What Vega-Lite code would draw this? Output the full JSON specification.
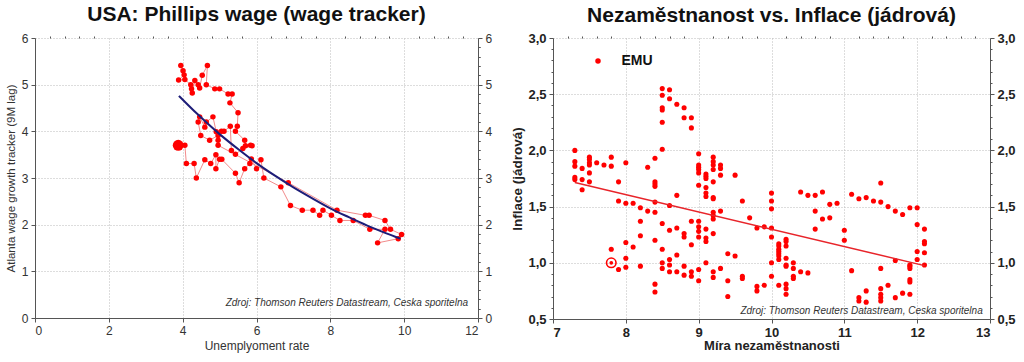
{
  "$schema": "https://vega.github.io/schema/vega-lite/v6.json",
  "padding": {"left": 5, "top": 4, "right": 4, "bottom": 2},
  "background": "white",
  "config": {"font": "Liberation Sans", "view": {"stroke": null}},
  "datasets": {
    "usa": [
      {"t":1,"u":3.95,"w":5.41},{"t":2,"u":4.01,"w":5.30},{"t":3,"u":4.04,"w":5.21},{"t":4,"u":3.89,"w":5.10},
      {"t":5,"u":4.06,"w":5.11},{"t":6,"u":4.22,"w":5.00},{"t":7,"u":4.24,"w":4.91},{"t":8,"u":4.26,"w":4.82},
      {"t":9,"u":4.33,"w":5.09},{"t":10,"u":4.42,"w":5.00},{"t":11,"u":4.46,"w":4.93},{"t":12,"u":4.53,"w":5.20},
      {"t":13,"u":4.67,"w":5.41},{"t":14,"u":4.64,"w":5.00},{"t":15,"u":4.87,"w":4.91},{"t":16,"u":5.00,"w":4.91},
      {"t":17,"u":5.23,"w":4.80},{"t":18,"u":5.34,"w":4.80},{"t":19,"u":5.28,"w":4.61},{"t":20,"u":5.50,"w":4.40},
      {"t":21,"u":5.48,"w":4.11},{"t":22,"u":5.43,"w":4.00},{"t":23,"u":5.68,"w":3.81},{"t":24,"u":5.70,"w":3.69},
      {"t":25,"u":5.84,"w":3.70},{"t":26,"u":5.88,"w":3.69},{"t":27,"u":5.63,"w":3.63},{"t":28,"u":5.43,"w":3.51},
      {"t":29,"u":5.32,"w":3.59},{"t":30,"u":5.29,"w":4.11},{"t":31,"u":5.12,"w":4.00},{"t":32,"u":5.05,"w":4.00},
      {"t":33,"u":4.91,"w":3.99},{"t":34,"u":4.82,"w":4.31},{"t":35,"u":4.64,"w":4.20},{"t":36,"u":4.60,"w":4.09},
      {"t":37,"u":4.46,"w":4.31},{"t":38,"u":4.42,"w":4.20},{"t":39,"u":4.49,"w":3.91},{"t":40,"u":4.73,"w":3.81},
      {"t":41,"u":4.96,"w":3.91},{"t":42,"u":4.96,"w":3.81},{"t":43,"u":4.96,"w":3.70},{"t":44,"u":6.86,"w":2.90},
      {"t":45,"u":8.18,"w":2.31},{"t":46,"u":8.95,"w":2.20},{"t":47,"u":9.05,"w":2.20},{"t":48,"u":9.48,"w":2.09},
      {"t":49,"u":9.63,"w":1.90},{"t":50,"u":9.93,"w":1.79},{"t":51,"u":9.84,"w":1.70},{"t":52,"u":9.28,"w":1.61},
      {"t":53,"u":9.48,"w":1.90},{"t":54,"u":9.07,"w":1.90},{"t":55,"u":8.62,"w":2.09},{"t":56,"u":8.26,"w":2.09},
      {"t":57,"u":8.03,"w":2.20},{"t":58,"u":7.80,"w":2.31},{"t":59,"u":7.71,"w":2.20},{"t":60,"u":7.53,"w":2.31},
      {"t":61,"u":7.24,"w":2.31},{"t":62,"u":6.92,"w":2.41},{"t":63,"u":6.66,"w":2.81},{"t":64,"u":6.20,"w":3.00},
      {"t":65,"u":6.12,"w":3.39},{"t":66,"u":6.00,"w":3.20},{"t":67,"u":5.86,"w":3.41},{"t":68,"u":5.82,"w":3.31},
      {"t":69,"u":5.68,"w":3.20},{"t":70,"u":5.53,"w":2.90},{"t":71,"u":5.43,"w":3.10},{"t":72,"u":5.06,"w":3.40},
      {"t":73,"u":5.00,"w":3.40},{"t":74,"u":4.90,"w":3.20},{"t":75,"u":4.90,"w":3.50},{"t":76,"u":4.76,"w":3.31},
      {"t":77,"u":4.60,"w":3.39},{"t":78,"u":4.37,"w":3.00},{"t":79,"u":4.31,"w":3.31},{"t":80,"u":4.10,"w":3.31},
      {"t":81,"u":4.06,"w":3.70},{"t":82,"u":3.88,"w":3.70}
    ],
    "usaLast": [{"u":3.88,"w":3.70}],
    "usaFit": [
      {"u":3.9,"w":4.76},{"u":4.4,"w":4.37},{"u":5.0,"w":3.94},{"u":5.5,"w":3.62},{"u":6.0,"w":3.32},
      {"u":6.5,"w":3.05},{"u":7.0,"w":2.80},{"u":7.5,"w":2.57},{"u":8.0,"w":2.35},{"u":8.5,"w":2.16},
      {"u":9.0,"w":1.98},{"u":9.5,"w":1.82},{"u":9.9,"w":1.70}
    ],
    "emu": [
      {"u":7.3,"w":2.0},{"u":7.3,"w":1.9},{"u":7.3,"w":1.86},{"u":7.3,"w":1.76},{"u":7.3,"w":1.74},
      {"u":7.4,"w":1.84},{"u":7.4,"w":1.74},{"u":7.4,"w":1.65},
      {"u":7.5,"w":1.94},{"u":7.5,"w":1.92},{"u":7.5,"w":1.89},{"u":7.5,"w":1.87},{"u":7.5,"w":1.80},{"u":7.5,"w":1.72},
      {"u":7.6,"w":1.89},{"u":7.7,"w":1.87},
      {"u":7.8,"w":1.94},{"u":7.8,"w":1.86},{"u":7.8,"w":1.12},
      {"u":7.9,"w":1.72},{"u":7.9,"w":1.55},{"u":7.9,"w":0.94},
      {"u":8.0,"w":1.89},{"u":8.0,"w":1.53},{"u":8.0,"w":1.18},{"u":8.0,"w":1.04},{"u":8.0,"w":0.96},
      {"u":8.1,"w":1.53},{"u":8.1,"w":1.14},
      {"u":8.2,"w":1.49},{"u":8.2,"w":1.37},{"u":8.2,"w":1.24},{"u":8.2,"w":0.97},
      {"u":8.3,"w":1.85},{"u":8.3,"w":1.46},
      {"u":8.4,"w":1.93},{"u":8.4,"w":1.72},{"u":8.4,"w":1.70},{"u":8.4,"w":1.68},{"u":8.4,"w":1.54},{"u":8.4,"w":1.45},{"u":8.4,"w":1.20},{"u":8.4,"w":0.81},{"u":8.4,"w":0.74},
      {"u":8.5,"w":2.55},{"u":8.5,"w":2.49},{"u":8.5,"w":2.38},{"u":8.5,"w":2.36},{"u":8.5,"w":2.25},{"u":8.5,"w":2.01},{"u":8.5,"w":1.35},{"u":8.5,"w":1.12},{"u":8.5,"w":1.0},{"u":8.5,"w":0.95},
      {"u":8.6,"w":2.54},{"u":8.6,"w":2.46},{"u":8.6,"w":1.51},{"u":8.6,"w":1.29},{"u":8.6,"w":1.03},{"u":8.6,"w":0.98},{"u":8.6,"w":0.92},
      {"u":8.7,"w":2.41},{"u":8.7,"w":1.60},{"u":8.7,"w":1.31},{"u":8.7,"w":1.07},{"u":8.7,"w":0.92},
      {"u":8.8,"w":2.38},{"u":8.8,"w":2.29},{"u":8.8,"w":1.26},{"u":8.8,"w":1.23},{"u":8.8,"w":0.97},{"u":8.8,"w":0.89},
      {"u":8.9,"w":2.29},{"u":8.9,"w":2.20},{"u":8.9,"w":1.37},{"u":8.9,"w":1.16},{"u":8.9,"w":0.92},{"u":8.9,"w":0.88},
      {"u":9.0,"w":1.97},{"u":9.0,"w":1.87},{"u":9.0,"w":1.85},{"u":9.0,"w":1.83},{"u":9.0,"w":1.80},{"u":9.0,"w":1.69},{"u":9.0,"w":1.37},{"u":9.0,"w":1.32},{"u":9.0,"w":1.28},{"u":9.0,"w":1.23},{"u":9.0,"w":0.94},{"u":9.0,"w":0.84},
      {"u":9.1,"w":1.79},{"u":9.1,"w":1.77},{"u":9.1,"w":1.75},{"u":9.1,"w":1.67},{"u":9.1,"w":1.62},{"u":9.1,"w":1.59},{"u":9.1,"w":1.30},{"u":9.1,"w":1.22},{"u":9.1,"w":1.19},{"u":9.1,"w":1.0},
      {"u":9.2,"w":1.94},{"u":9.2,"w":1.90},{"u":9.2,"w":1.87},{"u":9.2,"w":1.83},{"u":9.2,"w":1.72},{"u":9.2,"w":1.58},{"u":9.2,"w":1.57},{"u":9.2,"w":1.45},{"u":9.2,"w":1.42},{"u":9.2,"w":1.39},{"u":9.2,"w":1.26},{"u":9.2,"w":0.92},{"u":9.2,"w":0.87},
      {"u":9.3,"w":1.87},{"u":9.3,"w":1.84},{"u":9.3,"w":1.78},{"u":9.3,"w":1.46},{"u":9.3,"w":0.95},
      {"u":9.4,"w":1.08},{"u":9.4,"w":0.84},{"u":9.4,"w":0.70},
      {"u":9.5,"w":1.78},{"u":9.5,"w":1.06},
      {"u":9.6,"w":1.55},{"u":9.6,"w":0.88},{"u":9.6,"w":0.86},
      {"u":9.7,"w":1.40},
      {"u":9.8,"w":1.31},{"u":9.8,"w":0.79},{"u":9.8,"w":0.75},
      {"u":9.9,"w":1.32},{"u":9.9,"w":0.80},
      {"u":10.0,"w":1.62},{"u":10.0,"w":1.55},{"u":10.0,"w":1.48},{"u":10.0,"w":1.31},{"u":10.0,"w":1.23},{"u":10.0,"w":1.0},{"u":10.0,"w":0.88},
      {"u":10.1,"w":1.17},{"u":10.1,"w":1.15},{"u":10.1,"w":1.12},{"u":10.1,"w":1.10},{"u":10.1,"w":1.08},{"u":10.1,"w":1.06},{"u":10.1,"w":1.03},{"u":10.1,"w":0.80},
      {"u":10.2,"w":1.21},{"u":10.2,"w":1.19},{"u":10.2,"w":1.15},{"u":10.2,"w":1.04},{"u":10.2,"w":0.98},{"u":10.2,"w":0.97},{"u":10.2,"w":0.81},{"u":10.2,"w":0.77},{"u":10.2,"w":0.72},
      {"u":10.3,"w":1.0},{"u":10.3,"w":0.95},{"u":10.3,"w":0.88},{"u":10.3,"w":0.86},
      {"u":10.4,"w":1.63},{"u":10.4,"w":0.92},
      {"u":10.5,"w":1.60},{"u":10.5,"w":0.91},
      {"u":10.6,"w":1.60},{"u":10.6,"w":1.46},{"u":10.6,"w":1.30},
      {"u":10.7,"w":1.63},{"u":10.7,"w":1.39},
      {"u":10.8,"w":1.52},{"u":10.8,"w":1.40},
      {"u":10.9,"w":1.53},
      {"u":11.0,"w":1.29},{"u":11.0,"w":1.20},
      {"u":11.1,"w":1.61},{"u":11.1,"w":0.93},
      {"u":11.2,"w":1.57},{"u":11.2,"w":0.69},{"u":11.2,"w":0.66},
      {"u":11.3,"w":1.58},{"u":11.3,"w":0.75},{"u":11.3,"w":0.65},
      {"u":11.4,"w":1.55},
      {"u":11.5,"w":1.71},{"u":11.5,"w":1.54},{"u":11.5,"w":0.95},{"u":11.5,"w":0.77},{"u":11.5,"w":0.72},{"u":11.5,"w":0.69},{"u":11.5,"w":0.66},
      {"u":11.6,"w":1.50},{"u":11.6,"w":0.80},
      {"u":11.7,"w":1.46},{"u":11.7,"w":1.02},{"u":11.7,"w":0.69},
      {"u":11.8,"w":1.43},{"u":11.8,"w":0.73},
      {"u":11.9,"w":1.49},{"u":11.9,"w":0.98},{"u":11.9,"w":0.97},{"u":11.9,"w":0.95},{"u":11.9,"w":0.85},{"u":11.9,"w":0.83},{"u":11.9,"w":0.72},
      {"u":12.0,"w":1.49},{"u":12.0,"w":1.34},{"u":12.0,"w":1.10},{"u":12.0,"w":1.03},
      {"u":12.1,"w":1.30},{"u":12.1,"w":1.19},{"u":12.1,"w":1.17},{"u":12.1,"w":1.09},{"u":12.1,"w":0.98}
    ],
    "emuFit": [{"u":7.3,"w":1.715},{"u":12.1,"w":0.975}],
    "emuLast": [{"u":7.8,"w":1.0}]
  },
  "hconcat": [
    {
      "width": 443,
      "height": 280,
      "title": {"text": "USA: Phillips wage (wage tracker)", "fontSize": 21, "fontWeight": "bold", "color": "#111", "anchor": "middle", "offset": 7},
      "resolve": {"axis": {"y": "independent", "x": "independent"}},
      "layer": [
        {
          "data": {"name": "usa"},
          "mark": {"type": "line", "color": "#f28b8b", "strokeWidth": 1},
          "encoding": {
            "x": {"field": "u", "type": "quantitative", "scale": {"domain": [0, 12], "nice": false},
              "axis": {"title": "Unemplyoment rate", "values": [0,2,4,6,8,10,12], "format": "d", "grid": true, "gridDash": [1,2], "gridColor": "#bbbbbb",
                "domainColor": "#555", "tickColor": "#555", "tickSize": 4, "labelColor": "#333", "labelFontSize": 12, "labelPadding": 3,
                "titleFontSize": 12, "titleFontWeight": "normal", "titleColor": "#333", "titlePadding": 4}},
            "y": {"field": "w", "type": "quantitative", "scale": {"domain": [0, 6], "nice": false},
              "axis": {"title": "Atlanta wage growth tracker (9M lag)", "values": [0,1,2,3,4,5,6], "grid": true, "gridDash": [1,2], "gridColor": "#bbbbbb",
                "domainColor": "#555", "tickColor": "#555", "tickSize": 4, "labelColor": "#333", "labelFontSize": 12, "labelPadding": 3,
                "titleFontSize": 11.5, "titleFontWeight": "normal", "titleColor": "#333", "titlePadding": 5}},
            "order": {"field": "t", "type": "quantitative"}
          }
        },
        {
          "data": {"name": "usa"},
          "mark": {"type": "point", "filled": true, "color": "#ff0000", "opacity": 1, "size": 30},
          "encoding": {
            "x": {"field": "u", "type": "quantitative",
              "axis": {"values": [0.4,0.8,1.2,1.6,2.4,2.8,3.2,3.6,4.4,4.8,5.2,5.6,6.4,6.8,7.2,7.6,8.4,8.8,9.2,9.6,10.4,10.8,11.2,11.6],
                "labels": false, "domain": false, "grid": false, "tickSize": 2, "tickColor": "#555", "title": null}},
            "y": {"field": "w", "type": "quantitative", "axis": null}
          }
        },
        {
          "data": {"name": "usaLast"},
          "mark": {"type": "point", "filled": true, "color": "#ff0000", "opacity": 1, "size": 120},
          "encoding": {
            "x": {"field": "u", "type": "quantitative", "axis": null},
            "y": {"field": "w", "type": "quantitative",
              "axis": {"values": [0.2,0.4,0.6,0.8,1.2,1.4,1.6,1.8,2.2,2.4,2.6,2.8,3.2,3.4,3.6,3.8,4.2,4.4,4.6,4.8,5.2,5.4,5.6,5.8],
                "labels": false, "domain": false, "grid": false, "tickSize": 2, "tickColor": "#555", "title": null}}
          }
        },
        {
          "data": {"name": "usaFit"},
          "mark": {"type": "line", "color": "#1d1d78", "strokeWidth": 2, "interpolate": "monotone"},
          "encoding": {
            "x": {"field": "u", "type": "quantitative", "axis": null},
            "y": {"field": "w", "type": "quantitative",
              "axis": {"orient": "right", "title": null, "values": [0,1,2,3,4,5,6], "grid": false,
                "domainColor": "#555", "tickColor": "#555", "tickSize": 4, "labelColor": "#333", "labelFontSize": 12, "labelPadding": 3}}
          }
        },
        {
          "data": {"values": [{}]},
          "mark": {"type": "text", "align": "right", "baseline": "middle", "fontStyle": "italic", "fontSize": 10, "color": "#333"},
          "encoding": {
            "x": {"datum": 11.73, "type": "quantitative", "axis": null},
            "y": {"datum": 0.32, "type": "quantitative",
              "axis": {"orient": "right", "values": [0.2,0.4,0.6,0.8,1.2,1.4,1.6,1.8,2.2,2.4,2.6,2.8,3.2,3.4,3.6,3.8,4.2,4.4,4.6,4.8,5.2,5.4,5.6,5.8],
                "labels": false, "domain": false, "grid": false, "tickSize": 2, "tickColor": "#555", "title": null}},
            "text": {"value": "Zdroj: Thomson Reuters Datastream, Ceska sporitelna"}
          }
        }
      ]
    },
    {
      "width": 437,
      "height": 281,
      "title": {"text": "Nezaměstnanost vs. Inflace (jádrová)", "fontSize": 21, "fontWeight": "bold", "color": "#111", "anchor": "middle", "offset": 6},
      "resolve": {"axis": {"y": "independent", "x": "independent"}},
      "layer": [
        {
          "data": {"name": "emu"},
          "mark": {"type": "point", "filled": true, "opacity": 1, "size": 26},
          "encoding": {
            "x": {"field": "u", "type": "quantitative", "scale": {"domain": [7, 13], "nice": false},
              "axis": {"title": "Míra nezaměstnanosti", "values": [7,8,9,10,11,12,13], "format": "d", "grid": true, "gridDash": [1,2], "gridColor": "#bbbbbb",
                "domainColor": "#555", "tickColor": "#555", "tickSize": 4, "labelColor": "#222", "labelFontSize": 13, "labelFontWeight": "bold", "labelPadding": 3,
                "titleFontSize": 13, "titleFontWeight": "bold", "titleColor": "#222", "titlePadding": 0}},
            "y": {"field": "w", "type": "quantitative", "scale": {"domain": [0.5, 3.0], "nice": false},
              "axis": {"title": "Inflace (jádrová)", "values": [0.5,1.0,1.5,2.0,2.5,3.0], "grid": true, "gridDash": [1,2], "gridColor": "#bbbbbb",
                "labelExpr": "replace(format(datum.value, '.1f'), '.', ',')",
                "domainColor": "#555", "tickColor": "#555", "tickSize": 4, "labelColor": "#222", "labelFontSize": 13, "labelFontWeight": "bold", "labelPadding": 3,
                "titleFontSize": 13.5, "titleFontWeight": "bold", "titleColor": "#222", "titlePadding": 3}},
            "color": {"datum": "EMU", "type": "nominal", "scale": {"domain": ["EMU"], "range": ["#ff0000"]},
              "legend": {"orient": "none", "legendX": 556, "legendY": 16, "title": null, "labelFontSize": 14, "labelFontWeight": "bold", "labelColor": "#111",
                "symbolSize": 30, "symbolType": "circle", "labelOffset": 16.5}}
          }
        },
        {
          "data": {"name": "emuFit"},
          "mark": {"type": "line", "color": "#e8242a", "strokeWidth": 1.5},
          "encoding": {
            "x": {"field": "u", "type": "quantitative",
              "axis": {"values": [7.2,7.4,7.6,7.8,8.2,8.4,8.6,8.8,9.2,9.4,9.6,9.8,10.2,10.4,10.6,10.8,11.2,11.4,11.6,11.8,12.2,12.4,12.6,12.8],
                "labels": false, "domain": false, "grid": false, "tickSize": 2, "tickColor": "#555", "title": null}},
            "y": {"field": "w", "type": "quantitative",
              "axis": {"orient": "right", "title": null, "values": [0.5,1.0,1.5,2.0,2.5,3.0], "grid": false,
                "labelExpr": "replace(format(datum.value, '.1f'), '.', ',')",
                "domainColor": "#555", "tickColor": "#555", "tickSize": 4, "labelColor": "#222", "labelFontSize": 13, "labelFontWeight": "bold", "labelPadding": 3}}
          }
        },
        {
          "data": {"name": "emuLast"},
          "mark": {"type": "point", "filled": false, "color": "#ff0000", "strokeWidth": 1.6, "opacity": 1, "size": 90},
          "encoding": {
            "x": {"field": "u", "type": "quantitative", "axis": null},
            "y": {"field": "w", "type": "quantitative",
              "axis": {"values": [0.6,0.7,0.8,0.9,1.1,1.2,1.3,1.4,1.6,1.7,1.8,1.9,2.1,2.2,2.3,2.4,2.6,2.7,2.8,2.9],
                "labels": false, "domain": false, "grid": false, "tickSize": 2, "tickColor": "#555", "title": null}}
          }
        },
        {
          "data": {"name": "emuLast"},
          "mark": {"type": "point", "filled": true, "color": "#ff0000", "opacity": 1, "size": 14},
          "encoding": {
            "x": {"field": "u", "type": "quantitative", "axis": null},
            "y": {"field": "w", "type": "quantitative",
              "axis": {"orient": "right", "values": [0.6,0.7,0.8,0.9,1.1,1.2,1.3,1.4,1.6,1.7,1.8,1.9,2.1,2.2,2.3,2.4,2.6,2.7,2.8,2.9],
                "labels": false, "domain": false, "grid": false, "tickSize": 2, "tickColor": "#555", "title": null}}
          }
        },
        {
          "data": {"values": [{}]},
          "mark": {"type": "text", "align": "right", "baseline": "middle", "fontStyle": "italic", "fontSize": 10, "color": "#333"},
          "encoding": {
            "x": {"datum": 12.9, "type": "quantitative", "axis": null},
            "y": {"datum": 0.574, "type": "quantitative", "axis": null},
            "text": {"value": "Zdroj: Thomson Reuters Datastream, Ceska sporitelna"}
          }
        }
      ]
    }
  ],
  "spacing": 18
}
